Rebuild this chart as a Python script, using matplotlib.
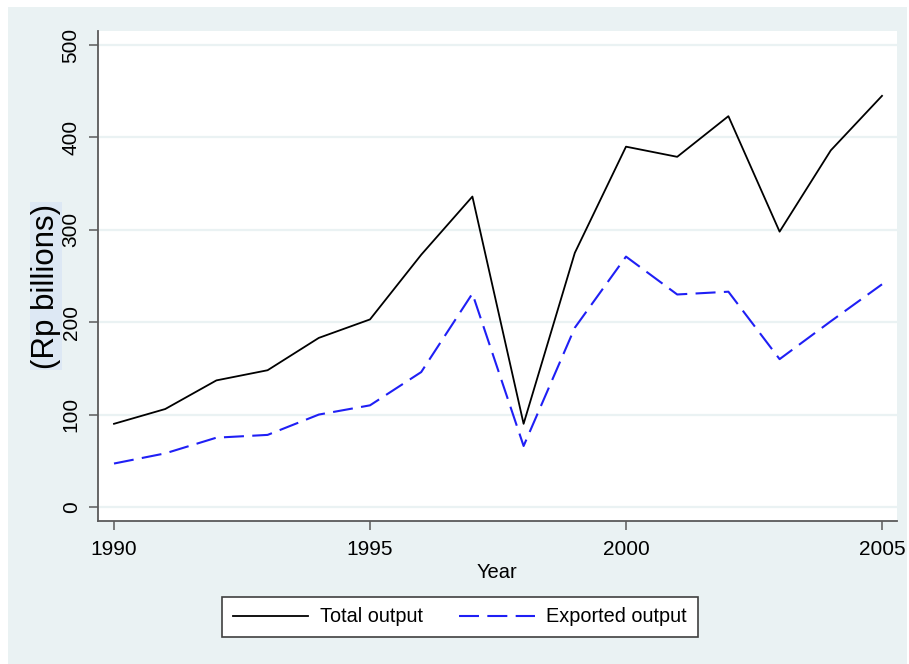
import matplotlib
matplotlib.use("Agg")
import matplotlib.pyplot as plt
from matplotlib.patches import Rectangle

plt.rcParams['font.family'] = ['Liberation Sans', 'DejaVu Sans']

years = list(range(1990, 2006))
total = [90, 106, 137, 148, 183, 203, 273, 336, 90, 275, 390, 379, 423, 298, 386, 445]
exported = [47, 58, 75, 78, 100, 110, 146, 231, 66, 194, 271, 230, 233, 160, 201, 241]
xticks = [1990, 1995, 2000, 2005]
yticks = [0, 100, 200, 300, 400, 500]

W, H = 909, 664
bg = '#eaf2f3'
fig = plt.figure(figsize=(W / 100, H / 100), dpi=100, facecolor='white')
# stata style outer panel
fig.patches.append(Rectangle((8 / W, 0), (907 - 8) / W, (H - 7) / H,
                             transform=fig.transFigure, facecolor=bg,
                             edgecolor='none', zorder=-10))

ax = fig.add_axes([98 / W, 1 - 521 / H, (897 - 98) / W, (521 - 31) / H])
ax.set_facecolor('white')

ax.plot(years, total, color='black', lw=1.3, label='Total output')
ax.plot(years, exported, color='#1f1ff5', lw=1.5, dashes=(9.6, 4),
        label='Exported output')

ax.set_xlim(1989.6875, 2005.293)
ax.set_ylim(-15.2, 515.2)
ax.set_xticks(xticks)
ax.set_yticks(yticks)
ax.grid(axis='y', color=bg, lw=1.6)
ax.grid(axis='x', visible=False)
ax.set_axisbelow(True)

for s in ['top', 'right']:
    ax.spines[s].set_visible(False)
for s in ['left', 'bottom']:
    ax.spines[s].set_color('#5a5a5a')
    ax.spines[s].set_linewidth(1.3)

ax.tick_params(axis='both', colors='#5a5a5a', length=6.5, width=1.1,
               labelcolor='black', labelsize=15)
ax.tick_params(axis='x', pad=7)
ax.tick_params(axis='y', pad=6)
for lab in ax.get_yticklabels():
    lab.set_rotation(90)
    lab.set_va('center')

fig.text(497 / W, 1 - 572 / H, 'Year', ha='center', va='center', fontsize=14.5)
fig.text(46 / W, 1 - 286 / H, '(Rp billions)', rotation=90, ha='center',
         va='center', fontsize=22.5,
         bbox=dict(facecolor='#dde8f4', edgecolor='none', pad=1))

leg = fig.legend(loc='center', bbox_to_anchor=(460 / W, 1 - 617 / H), ncol=2,
                 fontsize=14.3, handlelength=3.8, handletextpad=0.6,
                 columnspacing=1.8, borderpad=0.55, fancybox=False,
                 framealpha=1, edgecolor='#404040')
leg.get_frame().set_linewidth(1.2)

fig.savefig('out.png', dpi=100, facecolor=fig.get_facecolor())
